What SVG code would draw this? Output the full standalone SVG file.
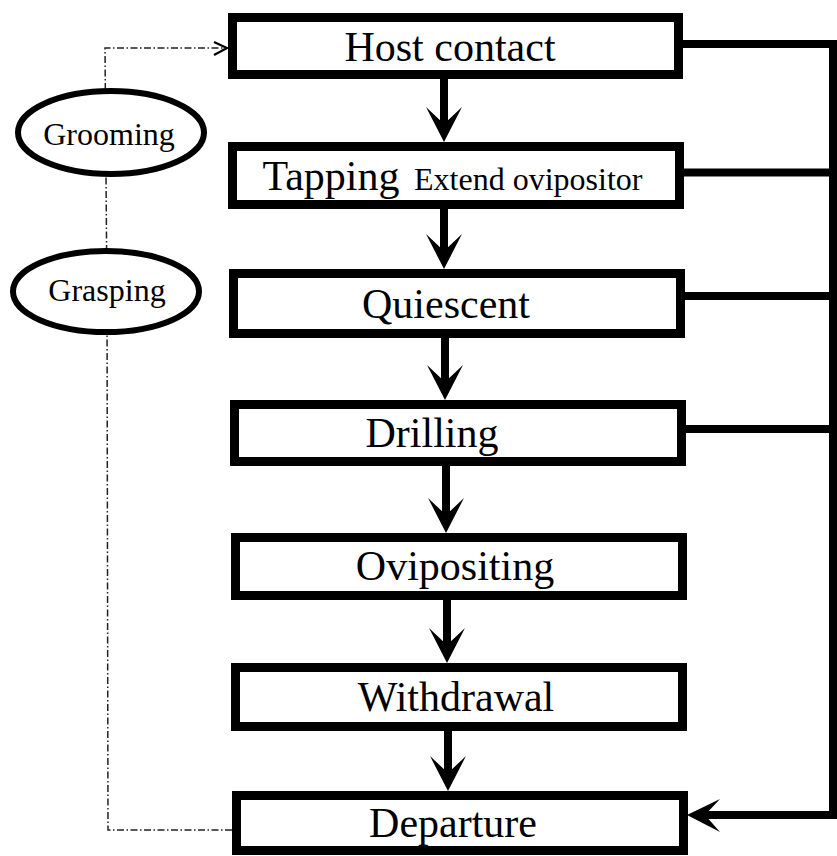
<svg xmlns="http://www.w3.org/2000/svg" width="837" height="856" viewBox="0 0 837 856">
<style>
.box{fill:#fff;stroke:#000;stroke-width:9}
.ell{fill:#fff;stroke:#000;stroke-width:6}
.t{font-family:"Liberation Serif","Times New Roman",serif;font-size:42px;fill:#000;text-anchor:middle}
.s{font-family:"Liberation Serif","Times New Roman",serif;font-size:32px;fill:#000}
.e{font-family:"Liberation Serif","Times New Roman",serif;font-size:32px;fill:#000;text-anchor:middle}
.thick{stroke:#000;stroke-width:8;fill:none}
.dd{stroke:#222;stroke-width:1.5;fill:none;stroke-dasharray:7 2.5 1.5 2.5}
.head{fill:#000}
</style>
<rect width="837" height="856" fill="#fff"/>
<g id="connectors">
<polyline class="dd" points="232,830 108,830 107,300 105,48 224,48"/>
<polyline points="214,42 227,48 214,55" fill="none" stroke="#000" stroke-width="2.2"/>
<line class="thick" x1="444" y1="79" x2="444" y2="130"/>
<path class="head" d="M444,142 L426,107 L444,124 L462,107 Z"/>
<line class="thick" x1="444" y1="209" x2="444" y2="258"/>
<path class="head" d="M444,269 L426,234 L444,251 L462,234 Z"/>
<line class="thick" x1="445" y1="338" x2="445" y2="389"/>
<path class="head" d="M445,400 L427,365 L445,382 L463,365 Z"/>
<line class="thick" x1="446" y1="466" x2="446" y2="522"/>
<path class="head" d="M446,533 L428,498 L446,515 L464,498 Z"/>
<line class="thick" x1="447" y1="600" x2="447" y2="652"/>
<path class="head" d="M447,663 L429,628 L447,645 L465,628 Z"/>
<line class="thick" x1="448" y1="731" x2="448" y2="780"/>
<path class="head" d="M448,791 L430,756 L448,773 L466,756 Z"/>
<line class="thick" x1="833" y1="40" x2="833" y2="819"/>
<line class="thick" x1="682" y1="44" x2="837" y2="44"/>
<line class="thick" x1="684" y1="172.5" x2="837" y2="172.5"/>
<line class="thick" x1="685" y1="296" x2="837" y2="296"/>
<line class="thick" x1="686" y1="429" x2="837" y2="429"/>
<line class="thick" x1="837" y1="815" x2="700" y2="815"/>
<path class="head" d="M687,815 L720,799 L705,815 L720,832 Z"/>
</g>
<g id="grooming">
<ellipse class="ell" cx="111" cy="132.5" rx="93" ry="41.5"/>
<text class="e" x="109" y="145">Grooming</text>
</g>
<g id="grasping">
<ellipse class="ell" cx="106" cy="291.5" rx="93" ry="40.5"/>
<text class="e" x="107" y="301">Grasping</text>
</g>
<g id="host-contact">
<rect class="box" x="232.5" y="17.5" width="446" height="57"/>
<text class="t" x="450" y="61">Host contact</text>
</g>
<g id="tapping">
<rect class="box" x="232.5" y="146.5" width="447" height="58"/>
<text class="t" x="331" y="190">Tapping</text>
<text class="s" x="414" y="190">Extend ovipositor</text>
</g>
<g id="quiescent">
<rect class="box" x="233.5" y="273.5" width="447" height="60"/>
<text class="t" x="446" y="318">Quiescent</text>
</g>
<g id="drilling">
<rect class="box" x="234.5" y="404.5" width="447" height="57"/>
<text class="t" x="432" y="447">Drilling</text>
</g>
<g id="ovipositing">
<rect class="box" x="235.5" y="537.5" width="447" height="58"/>
<text class="t" x="455" y="580">Ovipositing</text>
</g>
<g id="withdrawal">
<rect class="box" x="235.5" y="667.5" width="447" height="59"/>
<text class="t" x="456" y="711">Withdrawal</text>
</g>
<g id="departure">
<rect class="box" x="236.5" y="795.5" width="447" height="55"/>
<text class="t" x="453" y="837">Departure</text>
</g>
</svg>
